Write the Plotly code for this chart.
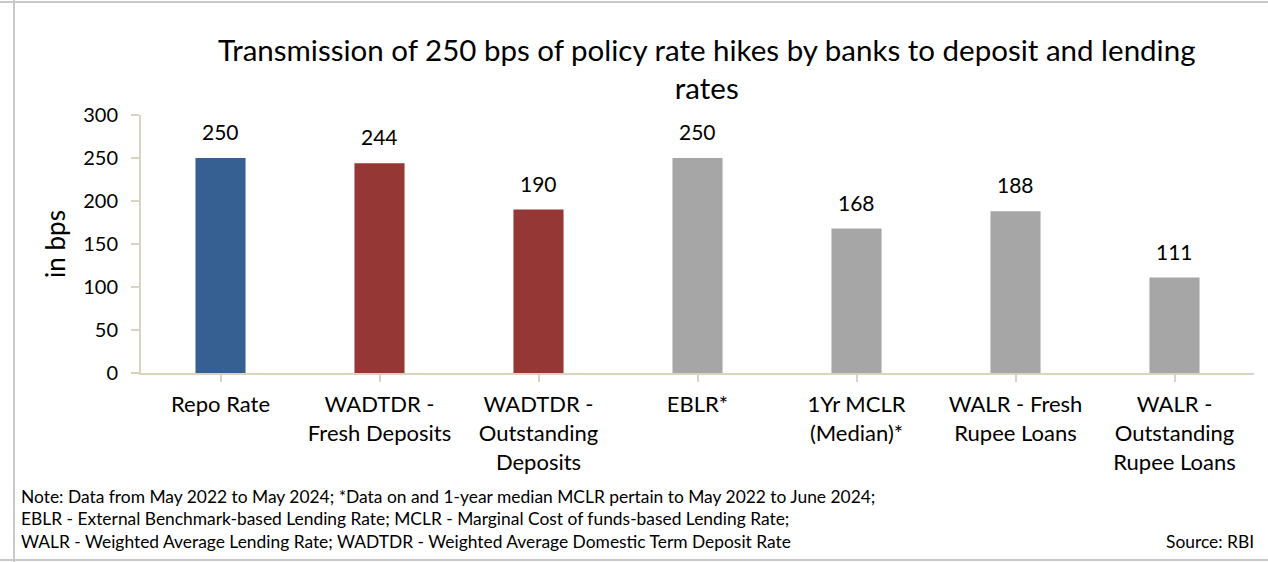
import plotly.graph_objects as go

# Chart data
categories = [
    "Repo Rate",
    "WADTDR -<br>Fresh Deposits",
    "WADTDR -<br>Outstanding<br>Deposits",
    "EBLR*",
    "1Yr MCLR<br>(Median)*",
    "WALR - Fresh<br>Rupee Loans",
    "WALR -<br>Outstanding<br>Rupee Loans",
]
values_bps = [250, 244, 190, 250, 168, 188, 111]
bar_colors = ["#366092", "#953735", "#953735", "#A6A6A6", "#A6A6A6", "#A6A6A6", "#A6A6A6"]
y_ticks = [0, 50, 100, 150, 200, 250, 300]

title_text = "Transmission of 250 bps of policy rate hikes by banks to deposit and lending<br>rates"
note_lines = [
    "Note: Data from May 2022 to May 2024; *Data on and 1-year median MCLR pertain to May 2022 to June 2024;",
    "EBLR - External Benchmark-based Lending Rate; MCLR - Marginal Cost of funds-based Lending Rate;",
    "WALR - Weighted Average Lending Rate; WADTDR - Weighted Average Domestic Term Deposit Rate",
]
source_text = "Source: RBI"

FONT = "Lato, 'Open Sans', sans-serif"
AXIS_COLOR = "#D9D4BF"
FRAME_COLOR = "#C9C9C9"

W, H = 1268, 562
ML, MR, MT, MB = 141, 14, 115, 189
PW, PH = W - ML - MR, H - MT - MB


def px_x(x):
    return (x - ML) / PW


def px_y(y):
    return (H - MB - y) / PH


fig = go.Figure()
fig.add_trace(go.Bar(
    x=list(range(len(categories))),
    y=values_bps,
    marker=dict(color=bar_colors, line=dict(width=0)),
    width=0.315,
    hoverinfo="x+y",
))

# Value labels above each bar
for i, v in enumerate(values_bps):
    fig.add_annotation(
        x=i, y=v, xref="x", yref="y", text=str(v), showarrow=False,
        yanchor="bottom", yshift=12, font=dict(family=FONT, size=21, color="#000000"),
    )

# Title
fig.add_annotation(
    x=px_x(707), y=px_y(30), xref="paper", yref="paper", text=title_text,
    showarrow=False, xanchor="center", yanchor="top", align="center",
    font=dict(family=FONT, size=29.5, color="#000000"),
)

# Notes and source
for k, line in enumerate(note_lines):
    fig.add_annotation(
        x=px_x(19), y=px_y(496 + k * 22.5), xref="paper", yref="paper", text=line,
        showarrow=False, xanchor="left", yanchor="middle",
        font=dict(family=FONT, size=17.4, color="#000000"),
    )
fig.add_annotation(
    x=px_x(1256), y=px_y(541), xref="paper", yref="paper", text=source_text,
    showarrow=False, xanchor="right", yanchor="middle",
    font=dict(family=FONT, size=17.4, color="#000000"),
)

# Outer frame lines
frame = dict(color=FRAME_COLOR, width=2)
fig.add_shape(type="line", xref="paper", yref="paper",
              x0=px_x(0), x1=px_x(W), y0=px_y(2), y1=px_y(2), line=frame)
fig.add_shape(type="line", xref="paper", yref="paper",
              x0=px_x(0), x1=px_x(W), y0=px_y(560), y1=px_y(560), line=frame)
fig.add_shape(type="line", xref="paper", yref="paper",
              x0=px_x(14), x1=px_x(14), y0=px_y(0), y1=px_y(H), line=frame)

fig.update_layout(
    width=W, height=H,
    margin=dict(l=ML, r=MR, t=MT, b=MB, pad=0),
    paper_bgcolor="#FFFFFF", plot_bgcolor="#FFFFFF",
    showlegend=False,
    font=dict(family=FONT, size=20, color="#000000"),
)
fig.update_xaxes(
    tickmode="array", tickvals=list(range(len(categories))), ticktext=categories,
    range=[-0.5, len(categories) - 0.5],
    showline=True, linecolor=AXIS_COLOR, linewidth=2,
    ticks="outside", tickson="boundaries", ticklen=7, tickcolor=AXIS_COLOR, tickwidth=2,
    ticklabelstandoff=4,
    showgrid=False, zeroline=False,
    tickfont=dict(family=FONT, size=22, color="#000000"),
)
fig.update_yaxes(
    range=[0, 300], tickvals=y_ticks,
    showline=True, linecolor=AXIS_COLOR, linewidth=2,
    ticks="outside", ticklen=8, tickcolor=AXIS_COLOR, tickwidth=2,
    ticklabelstandoff=9,
    showgrid=False, zeroline=False,
    tickfont=dict(family=FONT, size=20, color="#000000"),
    title=dict(text="in bps", font=dict(family=FONT, size=26, color="#000000"), standoff=10),
)

fig.write_html("out.html")
